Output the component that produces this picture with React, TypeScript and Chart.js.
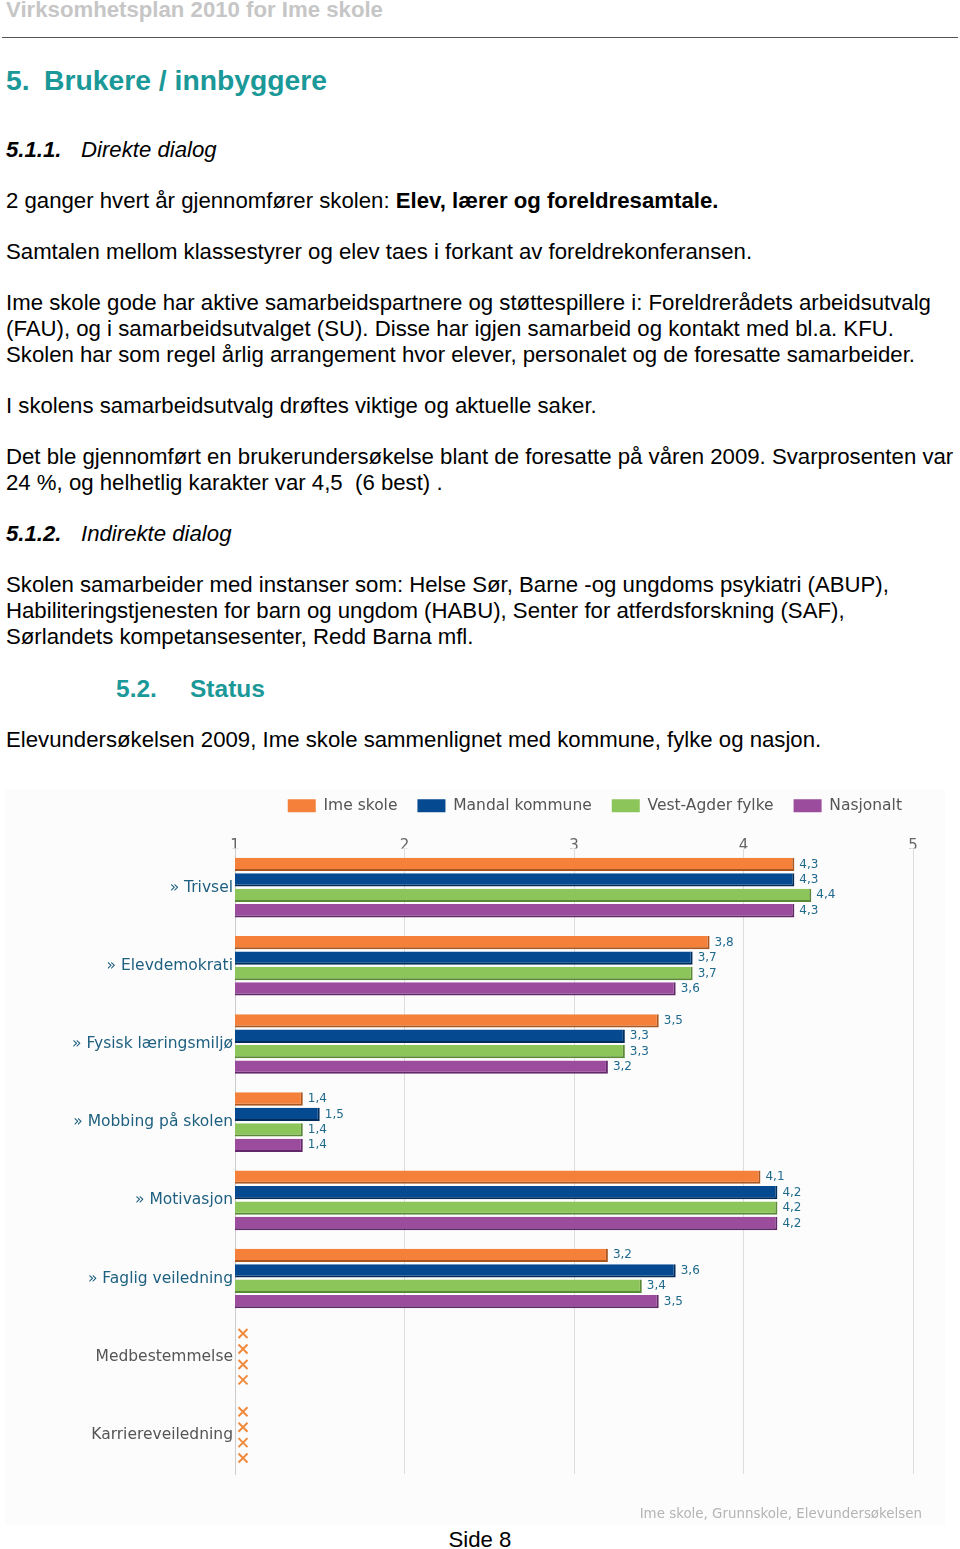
import React, { useEffect, useRef } from "react";
import { Chart, registerables } from "chart.js";

Chart.register(...registerables);

const categories = [
  "» Trivsel",
  "» Elevdemokrati",
  "» Fysisk læringsmiljø",
  "» Mobbing på skolen",
  "» Motivasjon",
  "» Faglig veiledning",
  "Medbestemmelse",
  "Karriereveiledning",
];
const seriesNames = ["Ime skole", "Mandal kommune", "Vest-Agder fylke", "Nasjonalt"];
const imeSkole = [4.3, 3.8, 3.5, 1.4, 4.1, 3.2, null, null];
const mandalKommune = [4.3, 3.7, 3.3, 1.5, 4.2, 3.6, null, null];
const vestAgderFylke = [4.4, 3.7, 3.3, 1.4, 4.2, 3.4, null, null];
const nasjonalt = [4.3, 3.6, 3.2, 1.4, 4.2, 3.5, null, null];
const xMin = 1;
const xMax = 5;
const sourceText = "Ime skole, Grunnskole, Elevundersøkelsen";

const fills = ["#f4803a", "#054a91", "#8cc55a", "#9b4c9d"];
const edges = ["#a9561f", "#022c5a", "#5b8a37", "#62296a"];

const valueLabelPlugin = {
  id: "valueLabels",
  afterLayout(chart: any) {
    if (chart.legend) {
      chart.legend.left += 9;
      chart.legend.right += 9;
    }
  },
  afterDatasetsDraw(chart: any) {
    const ctx = chart.ctx;
    const xScale = chart.scales.x;
    const yScale = chart.scales.y;
    ctx.save();
    chart.data.datasets.forEach((ds: any, di: number) => {
      const meta = chart.getDatasetMeta(di);
      ds.data.forEach((v: number | null, i: number) => {
        const el = meta.data[i];
        let y = el && isFinite(el.y) ? el.y : NaN;
        if (!isFinite(y)) {
          const step = (yScale.getPixelForValue(1) - yScale.getPixelForValue(0)) * 0.79 / 4;
          y = yScale.getPixelForValue(i) + (di - 1.5) * step;
        }
        if (v === null || v === undefined) {
          const cx = xScale.getPixelForValue(xMin) + 8;
          const s = 4.5;
          ctx.strokeStyle = "#f08a3c";
          ctx.lineWidth = 2;
          ctx.beginPath();
          ctx.moveTo(cx - s, y - s);
          ctx.lineTo(cx + s, y + s);
          ctx.moveTo(cx + s, y - s);
          ctx.lineTo(cx - s, y + s);
          ctx.stroke();
        } else {
          ctx.fillStyle = "#1f6a8c";
          ctx.font = "12px 'DejaVu Sans'";
          ctx.textAlign = "left";
          ctx.textBaseline = "middle";
          ctx.fillText(v.toFixed(1).replace(".", ","), el.x + 5, y);
        }
      });
    });
    ctx.restore();
  },
  afterDraw(chart: any) {
    const ctx = chart.ctx;
    ctx.save();
    ctx.fillStyle = "#b4b4b4";
    ctx.font = "13.4px 'DejaVu Sans'";
    ctx.textAlign = "right";
    ctx.textBaseline = "middle";
    ctx.fillText(sourceText, chart.width - 23, chart.height - 10);
    ctx.restore();
  },
};

function BarChart() {
  const ref = useRef<HTMLCanvasElement>(null);
  useEffect(() => {
    if (!ref.current) return;
    Chart.defaults.font.family = "'DejaVu Sans'";
    const seriesData = [imeSkole, mandalKommune, vestAgderFylke, nasjonalt];
    const chart = new Chart(ref.current, {
      type: "bar",
      data: {
        labels: categories,
        datasets: seriesNames.map((name, i) => ({
          label: name,
          data: seriesData[i] as any,
          backgroundColor: fills[i],
          borderColor: edges[i],
          borderWidth: { top: 0, left: 0, right: 2, bottom: 2 },
          borderSkipped: false,
          categoryPercentage: 0.79,
          barPercentage: 0.86,
        })),
      },
      options: {
        indexAxis: "y",
        animation: false,
        responsive: false,
        devicePixelRatio: 1,
        layout: { padding: { top: -12, right: 32, bottom: 51, left: 0 } },
        plugins: {
          legend: {
            position: "top",
            align: "end",
            labels: {
              boxWidth: 28,
              boxHeight: 13,
              padding: 20,
              color: "#555555",
              font: { size: 15.5, family: "'DejaVu Sans'" },
              generateLabels: (c: any) =>
                Chart.defaults.plugins.legend.labels
                  .generateLabels(c)
                  .map((l: any) => ({ ...l, lineWidth: 0, strokeStyle: l.fillStyle })),
            },
          },
          tooltip: { enabled: false },
        },
        scales: {
          x: {
            type: "linear",
            position: "top",
            min: xMin,
            max: xMax,
            ticks: {
              stepSize: 1,
              color: "#666666",
              font: { size: 15 },
              padding: -7,
            },
            grid: { color: "#dddddd", drawTicks: false },
            border: { display: false },
            afterFit: (scale: any) => {
              scale.height = 25;
            },
          },
          y: {
            type: "category",
            ticks: {
              color: (c: any) => (c.index >= 6 ? "#555555" : "#1f6080"),
              font: { size: 15.5 },
              padding: 2,
            },
            grid: { display: false, drawTicks: false },
            border: { display: true, color: "#cccccc" },
            afterFit: (scale: any) => {
              scale.width = 230;
            },
          },
        },
      } as any,
      plugins: [valueLabelPlugin],
    });
    return () => chart.destroy();
  }, []);
  return (
    <canvas
      ref={ref}
      width={940}
      height={735}
      style={{ position: "absolute", left: 5, top: 790, width: 940, height: 735, background: "#fcfcfc" }}
    />
  );
}

const bodyFont = "'Liberation Sans', Arial, sans-serif";
const teal = "#1b9898";
const BODY = 22.2;

function Line({ top, left = 6, size = BODY, style = {}, children }: any) {
  return (
    <div
      style={{
        position: "absolute",
        top,
        left,
        fontSize: size,
        lineHeight: "26px",
        whiteSpace: "pre",
        fontFamily: bodyFont,
        color: "#000",
        ...style,
      }}
    >
      {children}
    </div>
  );
}

export default function App() {
  const off = 13.5;
  return (
    <div style={{ position: "absolute", left: 0, top: 0, width: 960, height: 1549, background: "#fff", overflow: "hidden" }}>
      <Line top={10 - off} size={22.2} style={{ color: "#c6c6c6", fontWeight: "bold" }}>
        Virksomhetsplan 2010 for Ime skole
      </Line>
      <div style={{ position: "absolute", left: 2, top: 37, width: 956, height: 0, borderTop: "1.5px solid #555" }} />
      <Line top={80 - off} size={28.3} style={{ color: teal, fontWeight: "bold" }}>
        5.
      </Line>
      <Line top={80 - off} left={44} size={28.3} style={{ color: teal, fontWeight: "bold" }}>
        Brukere / innbyggere
      </Line>
      <Line top={150 - off} style={{ fontStyle: "italic", fontWeight: "bold" }}>
        5.1.1.
      </Line>
      <Line top={150 - off} left={81} style={{ fontStyle: "italic" }}>
        Direkte dialog
      </Line>
      <Line top={201 - off}>
        2 ganger hvert år gjennomfører skolen: <b>Elev, lærer og foreldresamtale.</b>
      </Line>
      <Line top={252 - off}>Samtalen mellom klassestyrer og elev taes i forkant av foreldrekonferansen.</Line>
      <Line top={303 - off}>
        Ime skole gode har aktive samarbeidspartnere og støttespillere i: Foreldrerådets arbeidsutvalg
      </Line>
      <Line top={329 - off}>(FAU), og i samarbeidsutvalget (SU). Disse har igjen samarbeid og kontakt med bl.a. KFU.</Line>
      <Line top={355 - off}>
        Skolen har som regel årlig arrangement hvor elever, personalet og de foresatte samarbeider.
      </Line>
      <Line top={406 - off}>I skolens samarbeidsutvalg drøftes viktige og aktuelle saker.</Line>
      <Line top={457 - off}>
        Det ble gjennomført en brukerundersøkelse blant de foresatte på våren 2009. Svarprosenten var
      </Line>
      <Line top={483 - off}>24 %, og helhetlig karakter var 4,5  (6 best) .</Line>
      <Line top={534 - off} style={{ fontStyle: "italic", fontWeight: "bold" }}>
        5.1.2.
      </Line>
      <Line top={534 - off} left={81} style={{ fontStyle: "italic" }}>
        Indirekte dialog
      </Line>
      <Line top={585 - off}>
        Skolen samarbeider med instanser som: Helse Sør, Barne -og ungdoms psykiatri (ABUP),
      </Line>
      <Line top={611 - off}>
        Habiliteringstjenesten for barn og ungdom (HABU), Senter for atferdsforskning (SAF),
      </Line>
      <Line top={637 - off}>Sørlandets kompetansesenter, Redd Barna mfl.</Line>
      <Line top={689 - off} left={116} size={24.5} style={{ color: teal, fontWeight: "bold" }}>
        5.2.
      </Line>
      <Line top={689 - off} left={190} size={24.5} style={{ color: teal, fontWeight: "bold" }}>
        Status
      </Line>
      <Line top={740 - off}>Elevundersøkelsen 2009, Ime skole sammenlignet med kommune, fylke og nasjon.</Line>
      <BarChart />
      <div
        style={{
          position: "absolute",
          left: 0,
          width: 960,
          top: 1540 - off,
          textAlign: "center",
          fontSize: 22.2,
          lineHeight: "26px",
          fontFamily: bodyFont,
          color: "#000",
        }}
      >
        Side 8
      </div>
    </div>
  );
}
